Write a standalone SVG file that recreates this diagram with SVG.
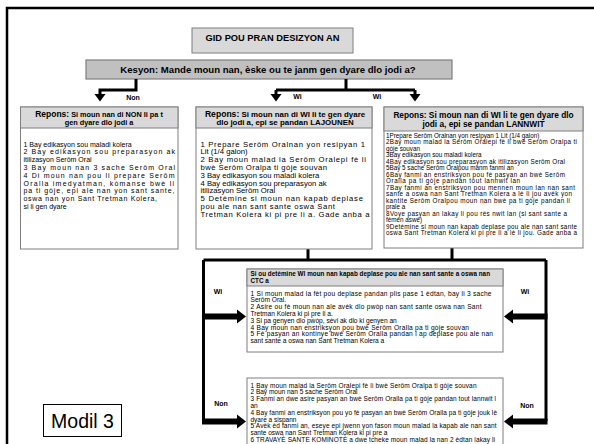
<svg xmlns="http://www.w3.org/2000/svg" width="594" height="444" viewBox="0 0 594 444">
<style>
text{font-family:"Liberation Sans",Arial,sans-serif;fill:#000}
.b{font-weight:bold}
.box{fill:#fff;stroke:#7f7f7f;stroke-width:1}
.hdr{fill:#d9d9d9;stroke:#7f7f7f;stroke-width:1}
.q{fill:#c0c0c0;stroke:#7f7f7f;stroke-width:1.2}
.ln{fill:none;stroke:#000;stroke-width:3}
.ah{fill:#000}
.lab{font-size:7px;font-weight:bold}
.tl{font-size:7px}
.tm{font-size:7.7px}
.tr{font-size:6.3px}
.t1{font-size:6.6px}
.t2{font-size:6.5px}
</style>
<rect width="594" height="444" fill="#fff"/>
<path d="M7,444 V8 H594" fill="none" stroke="#000" stroke-width="2.5"/>

<g id="title">
<rect x="192" y="28" width="161" height="25" class="hdr"/>
<text x="272.5" y="41" text-anchor="middle" class="b" font-size="9.3">GID POU PRAN DESIZYON AN</text>
</g>

<g id="question">
<rect x="86" y="60" width="366" height="19" class="q"/>
<text x="268" y="73" text-anchor="middle" class="b" font-size="9.6">Kesyon: Mande moun nan, èske ou te janm gen dyare dlo jodi a?</text>
</g>

<g id="connectors">
<path class="ln" d="M136,79 V90 H100 V95"/>
<polygon class="ah" points="94.5,94 105.5,94 100,101.5"/>
<path class="ln" d="M346,79 V90 M276,90 H415 M276,90 V95 M415,90 V95"/>
<polygon class="ah" points="270.5,94 281.5,94 276,101.5"/>
<polygon class="ah" points="409.5,94 420.5,94 415,101.5"/>
<text x="133" y="99.5" text-anchor="middle" class="lab">Non</text>
<text x="297.5" y="99" text-anchor="middle" class="lab">Wi</text>
<text x="377" y="99" text-anchor="middle" class="lab">Wi</text>

<path class="ln" d="M308,249 V260 M452,248 V260 M203.5,260 H546 M203.5,260 V421 M546,260 V421"/>
<rect x="202" y="313.5" width="36" height="6"/>
<polygon class="ah" points="237,309.5 246,316.5 237,323.5"/>
<rect x="512" y="313.5" width="35.5" height="6"/>
<polygon class="ah" points="513,309.5 504,316.5 513,323.5"/>
<rect x="202" y="418.5" width="36" height="6"/>
<polygon class="ah" points="237,414.5 246,421.5 237,428.5"/>
<rect x="512" y="418.5" width="35.5" height="6"/>
<polygon class="ah" points="513,414.5 504,421.5 513,428.5"/>
<text x="218" y="294" text-anchor="middle" class="lab">Wi</text>
<text x="525" y="294" text-anchor="middle" class="lab">Wi</text>
<text x="221" y="406" text-anchor="middle" class="lab">Non</text>
<text x="527" y="408" text-anchor="middle" class="lab">Non</text>
</g>

<g id="left-box">
<rect x="20.5" y="107" width="157.5" height="142" class="box"/>
<rect x="20.5" y="107" width="157.5" height="21" class="hdr"/>
<text x="99" y="117" text-anchor="middle" class="b" font-size="7.3"><tspan font-size="8.5">Repons:</tspan> Si moun nan di NON li pa t</text>
<text x="99" y="125" text-anchor="middle" class="b" font-size="7.3">gen dyare dlo jodi a</text>
<text class="tl" x="23.5" y="146.5">1 Bay edikasyon sou maladi kolera</text>
<text class="tl" x="23.5" y="154.3" textLength="151.5">2 Bay edikasyon sou preparasyon ak</text>
<text class="tl" x="23.5" y="162.1">itilizasyon Serôm Oral</text>
<text class="tl" x="23.5" y="169.9" textLength="151.5">3 Bay moun nan 3 sache Serôm Oral</text>
<text class="tl" x="23.5" y="177.7" textLength="151">4 Di moun nan pou li prepare Serôm</text>
<text class="tl" x="23.5" y="185.5" textLength="150.5">Oralla imedyatman, kòmanse bwè li</text>
<text class="tl" x="23.5" y="193.3" textLength="151">pa ti gòje, epi ale nan yon sant sante,</text>
<text class="tl" x="23.5" y="201.1" textLength="133.5">oswa nan yon Sant Tretman Kolera,</text>
<text class="tl" x="23.5" y="208.9">si li gen dyare</text>
</g>

<g id="middle-box">
<rect x="196" y="107" width="176" height="142" class="box"/>
<rect x="196" y="107" width="176" height="21" class="hdr"/>
<text x="285" y="117" text-anchor="middle" class="b" font-size="7.9"><tspan font-size="8.6">Repons:</tspan> Si moun nan di WI li te gen dyare</text>
<text x="285" y="125" text-anchor="middle" class="b" font-size="7.9">dlo jodi a, epi se pandan LAJOUNEN</text>
<text class="tm" x="200.5" y="146.5" textLength="164.5">1 Prepare Serôm Oralnan yon resipyan 1</text>
<text class="tm" x="200.5" y="154.3">Lit (1/4 galon)</text>
<text class="tm" x="200.5" y="162.1" textLength="165.5">2 Bay moun malad la Serôm Oralepi fè li</text>
<text class="tm" x="200.5" y="169.9" textLength="126.5">bwè Serôm Oralpa ti gòje souvan</text>
<text class="tm" x="200.5" y="177.7">3 Bay edikasyon sou maladi kolera</text>
<text class="tm" x="200.5" y="185.5">4 Bay edikasyon sou preparasyon ak</text>
<text class="tm" x="200.5" y="193.3">itilizasyon Serôm Oral</text>
<text class="tm" x="200.5" y="201.1" textLength="162.5">5 Detèmine si moun nan kapab deplase</text>
<text class="tm" x="200.5" y="208.9" textLength="134.5">pou ale nan sant sante oswa Sant</text>
<text class="tm" x="200.5" y="216.7" textLength="169">Tretman Kolera ki pi pre li a. Gade anba a</text>
</g>

<g id="right-box">
<rect x="384" y="107" width="199" height="141" class="box"/>
<rect x="384" y="107" width="199" height="24" class="hdr"/>
<text x="483.5" y="117.5" text-anchor="middle" class="b" font-size="8.3">Repons: Si moun nan di WI li te gen dyare dlo</text>
<text x="483.5" y="126.5" text-anchor="middle" class="b" font-size="8.3">jodi a, epi se pandan LANNWIT</text>
<text class="tr" x="386" y="137.5">1Prepare Serôm Oralnan yon resipyan 1 Lit (1/4 galon)</text>
<text class="tr" x="386" y="144" textLength="191">2Bay moun malad la Serôm Oralepi fè li bwè Serôm Oralpa ti</text>
<text class="tr" x="386" y="150.5">gòje souvan</text>
<text class="tr" x="386" y="157">3Bay edikasyon sou maladi kolera</text>
<text class="tr" x="386" y="163.5" textLength="179">4Bay edikasyon sou preparasyon ak itilizasyon Serôm Oral</text>
<text class="tr" x="386" y="170">5Bay 5 sache Serôm Oralpou manm fanmi an</text>
<text class="tr" x="386" y="176.5" textLength="179">6Bay fanmi an enstriksyon pou fè pasyan an bwè Serôm</text>
<text class="tr" x="386" y="183" textLength="134">Oralla pa ti gòje pandan tout lannwit lan</text>
<text class="tr" x="386" y="189.5" textLength="189">7Bay fanmi an enstriksyon pou mennen moun lan nan sant</text>
<text class="tr" x="386" y="196" textLength="186">sante a oswa nan Sant Tretman Kolera a lè li jou avèk yon</text>
<text class="tr" x="386" y="202.5" textLength="184">kantite Serôm Oralpou moun nan bwè pa ti gòje pandan li</text>
<text class="tr" x="386" y="209">prale a</text>
<text class="tr" x="386" y="215.5" textLength="181">8Voye pasyan an lakay li pou rès nwit lan (si sant sante a</text>
<text class="tr" x="386" y="222">fèmen aswè)</text>
<text class="tr" x="386" y="228.5" textLength="191">9Detèmine si moun nan kapab deplase pou ale nan sant sante</text>
<text class="tr" x="386" y="235" textLength="191">oswa Sant Tretman Kolera ki pi pre li a lè li jou. Gade anba a</text>
</g>

<g id="transport-box">
<rect x="247" y="269" width="256" height="83" class="box"/>
<rect x="247" y="269" width="256" height="17" class="hdr"/>
<text class="b" font-size="6.3" x="250.5" y="276" textLength="239.5">Si ou detèmine WI moun nan kapab deplase pou ale nan sant sante a oswa nan</text>
<text class="b" font-size="6.3" x="250.5" y="283">CTC a</text>
<text class="t1" x="250.5" y="295.5" textLength="241">1 Si moun malad la fèt pou deplase pandan plis pase 1 èdtan, bay li 3 sache</text>
<text class="t1" x="250.5" y="302.3">Serôm Oral.</text>
<text class="t1" x="250.5" y="309.1" textLength="231">2 Asire ou fè moun nan ale avèk dlo pwòp nan sant sante oswa nan Sant</text>
<text class="t1" x="250.5" y="315.9">Tretman Kolera ki pi pre li a.</text>
<text class="t1" x="250.5" y="322.7">3 Si pa genyen dlo pwòp, sèvi ak dlo ki genyen an</text>
<text class="t1" x="250.5" y="329.5" textLength="218.5">4 Bay moun nan enstriksyon pou bwè Serôm Oralla pa ti gòje souvan</text>
<text class="t1" x="250.5" y="336.3" textLength="242.5">5 Fè pasyan an kontinye bwè Serôm Oralla pandan l ap deplase pou ale nan</text>
<text class="t1" x="250.5" y="343.1">sant sante a oswa nan Sant Tretman Kolera a</text>
</g>

<g id="home-box">
<rect x="247" y="378" width="256" height="70" class="box"/>
<text class="t2" x="250.5" y="387.5" textLength="226">1 Bay moun malad la Serôm Oralepi fè li bwè Serôm Oralpa ti gòje souvan</text>
<text class="t2" x="250.5" y="394.3">2 Bay moun nan 5 sache Serôm Oral</text>
<text class="t2" x="250.5" y="401.1" textLength="245.5">3 Fanmi an dwe asire pasyan an bwè Serôm Oralla pa ti gòje pandan tout lannwit l</text>
<text class="t2" x="250.5" y="407.9">an</text>
<text class="t2" x="250.5" y="414.7" textLength="246.5">4 Bay fanmi an enstriksyon pou yo fè pasyan an bwè Serôm Oralla pa ti gòje jouk lè</text>
<text class="t2" x="250.5" y="421.5">dyare a sispann</text>
<text class="t2" x="250.5" y="428.3" textLength="246">5 Avèk èd fanmi an, eseye epi jwenn yon fason moun malad la kapab ale nan sant</text>
<text class="t2" x="250.5" y="435.1">sante oswa nan Sant Tretman Kolera ki pi pre a</text>
<text class="t2" x="250.5" y="441.9" textLength="244.5">6 TRAVAYÈ SANTE KOMINOTÈ a dwe tcheke moun malad la nan 2 èdtan lakay li</text>
</g>

<g id="modil">
<rect x="43.5" y="404.5" width="78" height="32" fill="#fff" stroke="#000" stroke-width="1"/>
<text x="82.5" y="428" text-anchor="middle" font-size="19.5">Modil 3</text>
</g>
</svg>
